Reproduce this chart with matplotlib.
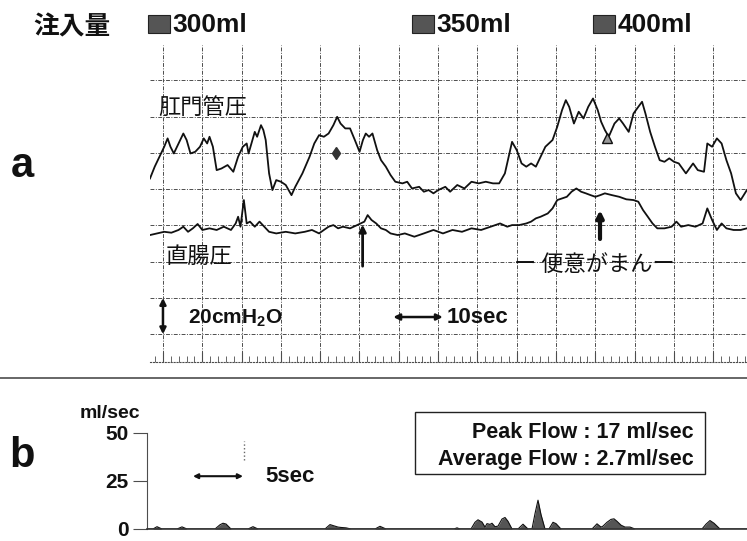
import matplotlib
matplotlib.use('Agg')
from matplotlib import pyplot as plt
from matplotlib.patches import Rectangle
from matplotlib.lines import Line2D
from matplotlib.ticker import MultipleLocator
import matplotlib.transforms as mtransforms

plt.rcParams['font.family'] = ['Liberation Sans', 'Noto Sans CJK JP', 'DejaVu Sans']
plt.rcParams['mathtext.fontset'] = 'custom'
plt.rcParams['mathtext.rm'] = 'Liberation Sans:bold'
plt.rcParams['mathtext.default'] = 'rm'

# --- panel a : pressure traces (sec, cmH2O) ---
anal_t = [-1.65, -1.05, -0.44, 0.16, 0.59, 0.95, 1.38, 1.98, 2.59, 3.01,
          3.50, 4.10, 4.71, 5.19, 5.62, 5.92, 6.35, 6.83, 7.44, 8.22,
          8.95, 9.56, 10.16, 10.65, 10.89, 11.38, 11.68, 11.98, 12.47, 12.77,
          13.07, 13.50, 13.92, 14.41, 15.01, 15.62, 16.35, 16.83, 17.74, 18.65,
          19.25, 19.86, 20.47, 21.07, 21.68, 22.16, 22.59, 23.19, 23.80, 24.41,
          25.01, 25.44, 25.80, 26.22, 26.65, 27.25, 27.74, 28.35, 28.95, 29.56,
          30.47, 31.07, 31.68, 32.59, 33.19, 33.80, 34.41, 35.01, 35.92, 36.53,
          37.44, 38.35, 39.25, 40.16, 41.07, 41.98, 42.77, 43.50, 43.98, 44.41,
          45.01, 45.62, 46.22, 46.83, 47.44, 48.04, 48.65, 49.56, 50.16, 50.77,
          51.25, 51.68, 52.28, 52.89, 53.50, 54.10, 54.71, 55.31, 55.74, 56.22,
          56.71, 57.44, 58.04, 58.53, 59.25, 59.86, 60.47, 60.95, 61.38, 61.98,
          62.59, 63.19, 63.80, 64.41, 65.01, 65.62, 66.53, 67.44, 68.04, 68.83,
          69.25, 69.86, 70.47, 71.07, 71.68, 72.28, 72.89, 73.49, 74.28]
anal_p = [65.9, 72.4, 77.9, 83.4, 88.0, 83.4, 79.7, 85.2, 90.7, 87.1,
          79.7, 80.6, 83.4, 88.0, 85.2, 88.9, 83.4, 70.5, 71.4, 73.3,
          69.6, 77.9, 83.4, 85.2, 79.7, 87.1, 91.6, 88.9, 95.3, 92.6,
          87.1, 68.7, 59.5, 65.0, 64.1, 62.3, 56.7, 61.3, 68.7, 77.9,
          85.2, 89.8, 88.9, 90.7, 95.3, 99.9, 96.2, 93.5, 93.5, 87.1,
          80.6, 87.1, 90.7, 88.9, 90.7, 81.5, 76.0, 72.4, 67.8, 64.1,
          63.2, 64.1, 60.4, 61.3, 58.6, 59.5, 57.7, 59.5, 61.3, 58.6,
          62.3, 60.4, 64.1, 63.2, 64.1, 63.2, 63.2, 68.7, 77.9, 86.1,
          81.5, 74.2, 72.4, 74.2, 72.4, 77.9, 83.4, 87.1, 94.4, 103.6,
          109.1, 105.4, 96.2, 102.7, 99.0, 105.4, 110.0, 103.6, 97.2, 92.6,
          88.9, 96.2, 99.0, 96.2, 91.6, 101.7, 105.4, 108.2, 101.7, 91.6,
          83.4, 76.0, 75.1, 77.0, 75.1, 74.2, 68.7, 74.2, 70.5, 69.6,
          85.2, 83.4, 88.0, 85.2, 76.0, 68.7, 57.7, 54.0, 59.5]

rect_t = [-1.65, -0.75, 0.16, 1.07, 1.98, 2.59, 3.19, 3.80, 4.41, 5.01,
          5.92, 6.83, 7.74, 8.65, 9.25, 9.56, 9.86, 10.29, 10.65, 11.07,
          11.68, 12.28, 12.89, 13.50, 14.41, 15.62, 16.83, 18.04, 18.95, 19.86,
          20.47, 21.07, 21.68, 22.28, 22.89, 23.80, 24.71, 25.62, 26.04, 26.53,
          27.13, 27.74, 28.35, 28.95, 29.86, 30.77, 31.98, 33.19, 34.41, 35.62,
          36.83, 38.04, 39.25, 40.47, 41.68, 42.89, 43.80, 44.41, 45.31, 46.22,
          46.83, 47.44, 48.04, 48.95, 49.56, 50.16, 50.77, 51.38, 51.98, 52.59,
          53.19, 53.80, 54.41, 55.01, 55.62, 56.22, 57.13, 58.04, 58.95, 59.86,
          60.47, 61.07, 61.68, 62.28, 62.89, 63.80, 64.71, 65.32, 65.92, 66.83,
          67.74, 68.65, 69.25, 69.86, 70.47, 71.07, 71.68, 72.59, 73.49, 74.28]
rect_p = [34.7, 35.6, 36.5, 36.0, 37.5, 39.3, 36.5, 38.4, 40.8, 37.5,
          38.4, 37.5, 39.3, 37.5, 41.1, 44.8, 39.3, 54.0, 41.1, 42.1,
          39.3, 42.1, 39.3, 36.5, 35.6, 36.5, 35.6, 36.5, 37.5, 35.6,
          37.5, 39.3, 40.2, 38.4, 39.3, 38.4, 40.2, 42.1, 45.7, 43.0,
          41.1, 38.4, 37.5, 35.6, 34.7, 35.6, 33.8, 35.6, 37.5, 35.6,
          37.5, 36.5, 38.4, 37.5, 39.3, 41.1, 39.3, 40.2, 40.2, 41.1,
          42.1, 43.9, 44.8, 46.6, 49.4, 54.0, 54.9, 55.8, 58.6, 60.4,
          58.6, 57.7, 56.7, 55.8, 56.7, 57.7, 56.7, 55.8, 54.4, 54.0,
          53.1, 48.5, 44.8, 41.1, 38.4, 38.4, 39.3, 42.1, 39.3, 40.2,
          39.3, 41.1, 49.4, 43.0, 37.5, 41.1, 38.4, 37.5, 37.5, 38.4]

vol_labels = ['300ml', '350ml', '400ml']
vol_t = [-1.9, 31.7, 54.7]

mark_t = [22.0, 56.5]
mark_p = [80.0, 88.0]

# --- panel b : flow (sec, ml/sec) ---
flow_t = [0, 0.6, 1.0, 1.5, 3.0, 3.5, 4.0, 6.8, 7.3, 7.6,
          7.9, 8.4, 10.1, 10.6, 11.1, 17.8, 18.3, 18.6, 19.1, 19.4,
          19.9, 20.4, 22.8, 23.3, 23.9, 30.7, 31.0, 31.3, 32.4, 32.8,
          33.1, 33.5, 33.8, 34.0, 34.3, 34.5, 34.8, 35.1, 35.5, 35.8,
          36.1, 36.5, 37.1, 37.6, 38.1, 38.5, 38.8, 39.1, 39.4, 39.8,
          40.2, 40.6, 40.9, 41.4, 44.5, 45.0, 45.4, 45.6, 46.0, 46.4,
          46.7, 47.0, 47.4, 47.8, 48.3, 48.8, 55.5, 55.9, 56.3, 56.7,
          57.3, 60]
flow_v = [0, 0, 1.2, 0, 0, 1.1, 0, 0, 2.2, 3.0,
          2.6, 0, 0, 1.2, 0, 0, 2.3, 1.8, 1.0, 0.8,
          0.6, 0, 0, 1.4, 0, 0, 0.6, 0, 0, 3.5,
          4.8, 3.6, 1.0, 2.8, 2.4, 3.0, 1.2, 1.5, 5.2, 6.0,
          4.0, 0, 0, 2.5, 0, 0, 8.0, 15.0, 7.5, 0,
          0, 3.5, 2.8, 0, 0, 2.7, 1.0, 1.5, 3.5, 5.0,
          5.3, 4.0, 2.0, 1.0, 1.0, 0, 0, 2.5, 4.4, 3.0,
          0, 0]
peak_flow = 17
avg_flow = 2.7

W, H = 747, 541
fig = plt.figure(figsize=(W / 100, H / 100), dpi=100)


def fx(x):
    return x / W


def fy(y):
    return 1 - y / H


bold = dict(fontweight='bold', color='#111')

# panel a
ax = fig.add_axes([fx(150), fy(362), fx(747) - fx(150), fy(45) - fy(362)])
ax.set_xlim(-1.65, 74.3)
ax.set_ylim(-35.3, 139.5)
ax.xaxis.set_major_locator(MultipleLocator(5))
ax.xaxis.set_minor_locator(MultipleLocator(1))
ax.yaxis.set_major_locator(MultipleLocator(20))
ax.grid(which='major', color='0.3', lw=0.7, ls=(0, (4, 1.5, 1, 1.5)))
ax.tick_params(which='both', direction='in', bottom=True, left=False,
               labelbottom=False, labelleft=False, color='0.3')
ax.tick_params(which='major', length=7)
ax.tick_params(which='minor', length=4)
for s in ['top', 'right', 'left']:
    ax.spines[s].set_visible(False)
ax.spines['bottom'].set_linestyle(':')
ax.spines['bottom'].set_color('0.3')

ax.plot(anal_t, anal_p, color='#111', lw=1.3)
ax.plot(rect_t, rect_p, color='#111', lw=1.3)
ax.plot(mark_t[0], mark_p[0], marker='d', ms=6, color='#333')
ax.plot(mark_t[1], mark_p[1], marker='^', ms=7, mfc='#999', mec='#111')

ax.annotate('', xy=(25.4, 42), xytext=(25.4, 16),
            arrowprops=dict(arrowstyle='-|>', lw=2, color='#111', mutation_scale=10))
ax.annotate('', xy=(55.6, 50), xytext=(55.6, 31),
            arrowprops=dict(arrowstyle='-|>', lw=3, color='#111', mutation_scale=10))
ax.annotate('', xy=(0, 0), xytext=(0, -20),
            arrowprops=dict(arrowstyle='<|-|>', lw=1.8, color='#111', mutation_scale=9,
                            shrinkA=0, shrinkB=0))
ax.annotate('', xy=(29.3, -10.5), xytext=(35.6, -10.5),
            arrowprops=dict(arrowstyle='<|-|>', lw=1.8, color='#111', mutation_scale=9,
                            shrinkA=0, shrinkB=0))
ax.text(3.2, -11.5, '20cmH$_2$O', fontsize=15, va='center', **bold)
ax.text(36.1, -10.5, '10sec', fontsize=16, va='center', **bold)

cjk = ['Noto Sans CJK JP', 'DejaVu Sans']
ax.text(-0.6, 104.7, '肛門管圧', fontsize=16, family=cjk, va='center', color='#111')
ax.text(0.4, 23.1, '直腸圧', fontsize=16, family=cjk, va='center', color='#111')
ax.text(44.6, 18.5, 'ー 便意がまんー', fontsize=16, family=cjk, va='center', color='#111')

# header: injected volume
trans = mtransforms.blended_transform_factory(ax.transData, fig.transFigure)
fig.text(fx(72), fy(27), '注入量', fontsize=18.5, family=cjk, fontweight='bold',
         ha='center', va='center', color='#111')
for lab, t in zip(vol_labels, vol_t):
    fig.add_artist(Rectangle((t, fy(33)), 2.8, 18 / H, transform=trans,
                             facecolor='#555', edgecolor='#222', lw=0.8))
    fig.text(t + 3.1, fy(24.5), lab, transform=trans, fontsize=19, va='center', **bold)

fig.text(fx(22), fy(166), 'a', fontsize=30, ha='center', va='center', **bold)

# separator
fig.add_artist(Line2D([0, 1], [fy(378), fy(378)], color='0.3', lw=1.2))

# panel b
bx = fig.add_axes([fx(147), fy(529), fx(747) - fx(147), fy(433) - fy(529)])
bx.set_xlim(0, 60)
bx.set_ylim(0, 50)
bx.fill_between(flow_t, flow_v, 0, color='#555', lw=0)
bx.plot(flow_t, flow_v, color='#111', lw=0.8)
bx.set_yticks([0, 25, 50])
bx.set_yticklabels(['0', '25', '50'], fontsize=15, fontweight='bold', color='#111')
bx.set_xticks([])
bx.tick_params(axis='y', length=10, width=0.8, pad=3, color='0.3')
for s in ['top', 'right']:
    bx.spines[s].set_visible(False)
bx.spines['left'].set_color('0.3')
bx.spines['bottom'].set_color('0.2')
bx.spines['bottom'].set_linewidth(1.2)

bx.annotate('', xy=(4.6, 27.5), xytext=(9.6, 27.5),
            arrowprops=dict(arrowstyle='<|-|>', lw=1.5, color='#111', mutation_scale=7,
                            shrinkA=0, shrinkB=0))
bx.text(11.8, 27.5, '5sec', fontsize=16, va='center', **bold)
bx.plot([9.7, 9.7], [36, 46], color='0.4', lw=1, ls=':')

fig.text(fx(110), fy(414), 'ml/sec', fontsize=14, ha='center', va='center', **bold)
fig.text(fx(22), fy(456), 'b', fontsize=30, ha='center', va='center', **bold)

fig.add_artist(Rectangle((fx(415), fy(474)), fx(705) - fx(415), fy(412) - fy(474),
                         transform=fig.transFigure, fill=False, edgecolor='#222', lw=1))
fig.text(fx(694), fy(433), 'Peak Flow : %d ml/sec' % peak_flow, fontsize=15.5,
         ha='right', va='center', **bold)
fig.text(fx(694), fy(459), 'Average Flow : %.1fml/sec' % avg_flow, fontsize=15.5,
         ha='right', va='center', **bold)

fig.savefig('out.png', dpi=100)
